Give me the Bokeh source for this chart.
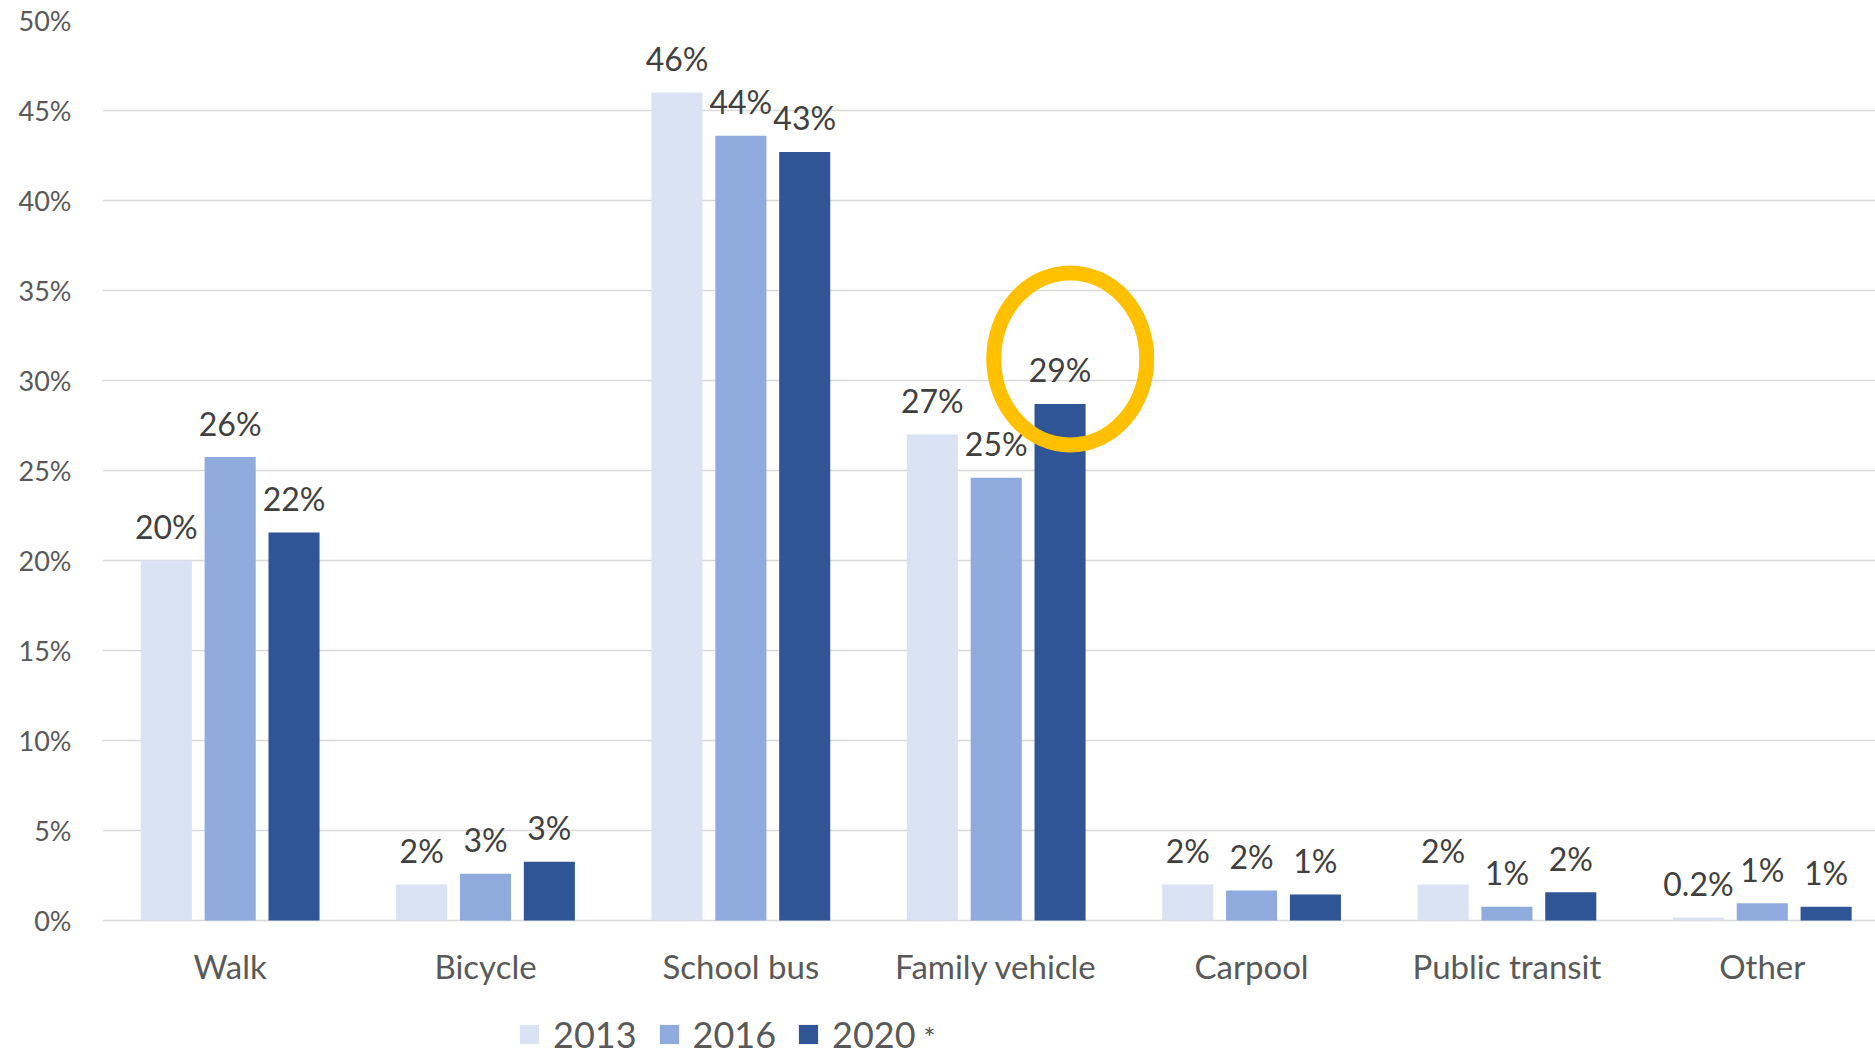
from bokeh.plotting import figure
from bokeh.models import (FixedTicker, PrintfTickFormatter, Legend, LegendItem,
                          Label, Range1d, ColumnDataSource)
from bokeh.embed import file_html
from bokeh.resources import INLINE
from bokeh.core.properties import value

# ---------------- data ----------------
categories = ["Walk", "Bicycle", "School bus", "Family vehicle", "Carpool",
              "Public transit", "Other"]
years = ["2013", "2016", "2020"]
v2013 = [20.0, 2.0, 46.0, 27.0, 2.0, 2.0, 0.17]
v2016 = [25.75, 2.6, 43.6, 24.6, 1.67, 0.76, 0.96]
v2020 = [21.55, 3.26, 42.7, 28.7, 1.45, 1.57, 0.76]
labels2013 = ["20%", "2%", "46%", "27%", "2%", "2%", "0.2%"]
labels2016 = ["26%", "3%", "44%", "25%", "2%", "1%", "1%"]
labels2020 = ["22%", "3%", "43%", "29%", "1%", "2%", "1%"]
y_ticks = [0, 5, 10, 15, 20, 25, 30, 35, 40, 45, 50]
highlight_category = "Family vehicle"   # circled 2020 value
legend_note = "*"

# ---------------- style ----------------
colors = ["#DAE3F3", "#8FAADC", "#2F5597"]
FONT = "Lato"
offsets = [-0.25, 0.0, 0.25]
bar_w = 0.2

W, H = 1875, 1056
LEFT, TOP = 102, 20
ZERO_Y = 920            # pixel row of 0%
PX_PER_PCT = (ZERO_Y - TOP) / 50.0
CAT_W = 255.35

p = figure(width=W, height=H, output_backend="svg", toolbar_location=None,
           x_range=Range1d(0, (W - LEFT) / CAT_W),
           y_range=Range1d(-(H - ZERO_Y) / PX_PER_PCT, 50),
           min_border_left=LEFT, min_border_right=0, min_border_top=TOP,
           min_border_bottom=0)
p.outline_line_color = None
p.background_fill_color = "white"
p.border_fill_color = "white"

series = [v2013, v2016, v2020]
labels = [labels2013, labels2016, labels2020]
renderers = []
for k in range(3):
    xs = [i + 0.5 + offsets[k] for i in range(len(categories))]
    src = ColumnDataSource(dict(x=xs, top=series[k], lab=labels[k]))
    r = p.vbar(x="x", top="top", width=bar_w, bottom=0, source=src,
               fill_color=colors[k], line_color=None)
    renderers.append(r)
    p.text(x="x", y="top", text="lab", source=src, text_align="center",
           text_baseline="alphabetic", y_offset=-34,
           text_font=value(FONT), text_font_size="32px", text_color="#404040")

# highlight ellipse around the circled value
hi = categories.index(highlight_category)
p.ellipse(x=[hi + 0.5 + offsets[2] + 0.04], y=[v2020[hi] + 2.5],
          width=153, height=172, width_units="screen", height_units="screen",
          fill_color=None, line_color="#FFC000", line_width=15)

# axes
p.yaxis.ticker = FixedTicker(ticks=y_ticks)
p.yaxis.formatter = PrintfTickFormatter(format="%d%%")
p.yaxis.axis_line_color = None
p.yaxis.major_tick_line_color = None
p.yaxis.minor_tick_line_color = None
p.yaxis.major_tick_out = 0
p.yaxis.major_tick_in = 0
p.yaxis.major_label_standoff = 31
p.yaxis.major_label_text_font = FONT
p.yaxis.major_label_text_font_size = "27px"
p.yaxis.major_label_text_color = "#595959"

xt = [i + 0.5 for i in range(len(categories))]
p.xaxis.fixed_location = 0
p.xaxis.ticker = FixedTicker(ticks=xt)
p.xaxis.major_label_overrides = {t: c for t, c in zip(xt, categories)}
p.xaxis.axis_line_color = None
p.xaxis.major_tick_line_color = None
p.xaxis.minor_tick_line_color = None
p.xaxis.major_tick_out = 0
p.xaxis.major_tick_in = 0
p.xaxis.major_label_standoff = 25
p.xaxis.major_label_text_font = FONT
p.xaxis.major_label_text_font_size = "33px"
p.xaxis.major_label_text_color = "#595959"

p.xgrid.grid_line_color = None
p.ygrid.ticker = FixedTicker(ticks=y_ticks)
p.ygrid.grid_line_color = "#D9D9D9"
p.ygrid.grid_line_width = 1.5

legend = Legend(items=[LegendItem(label=y, renderers=[r]) for y, r in zip(years, renderers)],
                orientation="horizontal", location=(517 - LEFT, 0),
                glyph_width=24, glyph_height=24, label_standoff=12, spacing=20,
                padding=0, margin=0, border_line_color=None,
                background_fill_alpha=0, label_text_font=FONT,
                label_text_font_size="36px", label_text_color="#595959")
p.add_layout(legend)

p.add_layout(Label(x=923 - LEFT, y=19, x_units="screen", y_units="screen",
                   text=legend_note, text_font=FONT, text_font_size="28px",
                   text_color="#595959", text_baseline="alphabetic"))

open("out.html", "w").write(file_html(p, INLINE))
